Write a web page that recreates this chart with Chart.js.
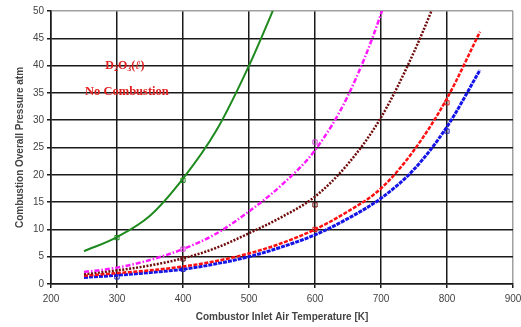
<!DOCTYPE html>
<html>
<head>
<meta charset="utf-8">
<script src="https://cdn.jsdelivr.net/npm/chart.js@4.4.1/dist/chart.umd.min.js"></script>
<style>
  html, body { margin: 0; padding: 0; background: #fff; }
  #wrap { width: 521px; height: 327px; position: relative; }
</style>
</head>
<body>
<div id="wrap"><canvas id="chart" width="521" height="327"></canvas></div>
<script>
// ─── Data ────────────────────────────────────────────────────
const temps = [250, 300, 350, 400, 450, 500, 550, 600, 650, 700, 750, 800, 850];

const greenP   = [6.0, 8.6, 12.5, 19.3, 28.0, 40.0, 54.0, null, null, null, null, null, null];
const magentaP = [2.2, 3.0, 4.4, 6.4, 9.2, 13.3, 18.2, 24.5, 34.5, 49.5, 70.0, null, null];
const brownP   = [1.8, 2.5, 3.4, 4.7, 6.6, 9.3, 12.3, 16.0, 22.0, 30.5, 42.5, 57.0, null];
const redP     = [1.5, 2.0, 2.5, 3.2, 4.2, 5.6, 7.5, 10.0, 13.3, 17.5, 24.5, 34.0, 46.2];
const blueP    = [1.2, 1.6, 2.1, 2.7, 3.7, 5.0, 6.8, 9.0, 12.0, 15.7, 21.0, 28.8, 39.2];

// measured points (hollow squares)
const greenPtsT   = [300, 400];   const greenPtsP   = [8.5, 19.0];
const magentaPtsT = [400, 600];   const magentaPtsP = [6.4, 26.0];
const brownPtsT   = [400, 600];   const brownPtsP   = [4.6, 14.5];
const redPtsT     = [600, 800];   const redPtsP     = [10.0, 33.2];
const bluePtsT    = [300, 400, 800]; const bluePtsP = [1.3, 2.7, 28.0];

const xTicks = [200, 300, 400, 500, 600, 700, 800, 900];
const yTicks = [0, 5, 10, 15, 20, 25, 30, 35, 40, 45, 50];

const xTitle = "Combustor Inlet Air Temperature [K]";
const yTitle = "Combustion Overall Pressure atm";

// ─── Helpers ─────────────────────────────────────────────────
const toXY = (xs, ys) => xs.map((x, i) => ({ x, y: ys[i] })).filter(p => p.y !== null);

function curve(data, color, dash, width) {
  return {
    data: toXY(temps, data),
    showLine: true,
    borderColor: color,
    backgroundColor: color,
    borderWidth: width,
    borderDash: dash,
    pointRadius: 0,
    cubicInterpolationMode: "monotone",
    fill: false,
  };
}

function marks(xs, ys, color) {
  return {
    data: toXY(xs, ys),
    showLine: false,
    pointStyle: "rect",
    pointRadius: 3,
    borderColor: color,
    backgroundColor: "rgba(255,255,255,0)",
    pointBorderWidth: 1,
  };
}

// red annotation, drawn in data coordinates
const noteLabel = {
  id: "noteLabel",
  afterDatasetsDraw(chart) {
    const { ctx, scales: { x, y } } = chart;
    ctx.save();
    ctx.fillStyle = "#e02020";
    ctx.textBaseline = "middle";

    // D2O3(l)
    const cx = x.getPixelForValue(312);
    const cy = y.getPixelForValue(40);
    const big = "bold 12px 'Liberation Serif'";
    const small = "bold 8px 'Liberation Serif'";
    const parts = [
      { t: "D", f: big, dy: 0 },
      { t: "2", f: small, dy: 3 },
      { t: "O", f: big, dy: 0 },
      { t: "3", f: small, dy: 3 },
      { t: "(", f: big, dy: 0 },
      { t: "ℓ", f: "italic bold 12px 'DejaVu Serif'", dy: 0 },
      { t: ")", f: big, dy: 0 },
    ];
    let total = 0;
    parts.forEach(p => { ctx.font = p.f; p.w = ctx.measureText(p.t).width; total += p.w; });
    let px = cx - total / 2;
    ctx.textAlign = "left";
    parts.forEach(p => { ctx.font = p.f; ctx.fillText(p.t, px, cy + p.dy); px += p.w; });

    ctx.textAlign = "center";
    ctx.font = "bold 12.5px 'Liberation Serif'";
    ctx.fillText("No Combustion", x.getPixelForValue(315), y.getPixelForValue(35.2));
    ctx.restore();
  }
};

// ─── Chart ───────────────────────────────────────────────────
new Chart(document.getElementById("chart"), {
  type: "scatter",
  data: {
    datasets: [
      curve(greenP, "#1e8a1e", [], 2),
      curve(magentaP, "#ff1aff", [5, 2, 1.5, 2], 2.5),
      curve(brownP, "#6e0a0a", [2, 1.5], 2.5),
      curve(redP, "#ff1010", [4, 1.5], 2.5),
      curve(blueP, "#1414e6", [4, 1], 3),
      marks(greenPtsT, greenPtsP, "#1e8a1e"),
      marks(magentaPtsT, magentaPtsP, "#d040d0"),
      marks(brownPtsT, brownPtsP, "#6e0a0a"),
      marks(redPtsT, redPtsP, "#d02020"),
      marks(bluePtsT, bluePtsP, "#2020c0"),
    ]
  },
  plugins: [noteLabel],
  options: {
    responsive: false,
    animation: false,
    layout: { padding: { top: 11, right: 8, left: 0, bottom: 0 } },
    plugins: { legend: { display: false }, tooltip: { enabled: false } },
    scales: {
      x: {
        type: "linear",
        min: 200, max: 900,
        afterFit: s => { s.height = 43; s.paddingRight = 0; s.paddingLeft = 0; },
        afterBuildTicks: s => { s.ticks = xTicks.map(v => ({ value: v })); },
        grid: {
          color: c => c.tick && c.tick.value === 900 ? "#a0a0a0" : "#1a1a1a",
          lineWidth: 1.5,
          tickLength: 4,
          tickColor: "#1a1a1a",
        },
        border: { color: "#1a1a1a", width: 1.5 },
        ticks: { color: "#444", font: { family: "Liberation Sans", size: 10 }, padding: 5, maxRotation: 0 },
        title: {
          display: true, text: xTitle, color: "#444",
          font: { family: "Liberation Sans", size: 10, weight: "bold" },
          padding: { top: 0, bottom: 4 },
        },
      },
      y: {
        type: "linear",
        min: 0, max: 50,
        afterFit: s => { s.width = 51; },
        afterBuildTicks: s => { s.ticks = yTicks.map(v => ({ value: v })); },
        grid: {
          color: c => c.tick && c.tick.value === 50 ? "#a0a0a0" : "#1a1a1a",
          lineWidth: 1.5,
          tickLength: 4,
          tickColor: "#1a1a1a",
        },
        border: { color: "#1a1a1a", width: 1.5 },
        ticks: { color: "#444", font: { family: "Liberation Sans", size: 10 }, padding: 3 },
        title: {
          display: true, text: yTitle, color: "#444",
          font: { family: "Liberation Sans", size: 10, weight: "bold" },
          padding: { top: 14, bottom: 0 },
        },
      },
    },
  },
});
</script>
</body>
</html>
